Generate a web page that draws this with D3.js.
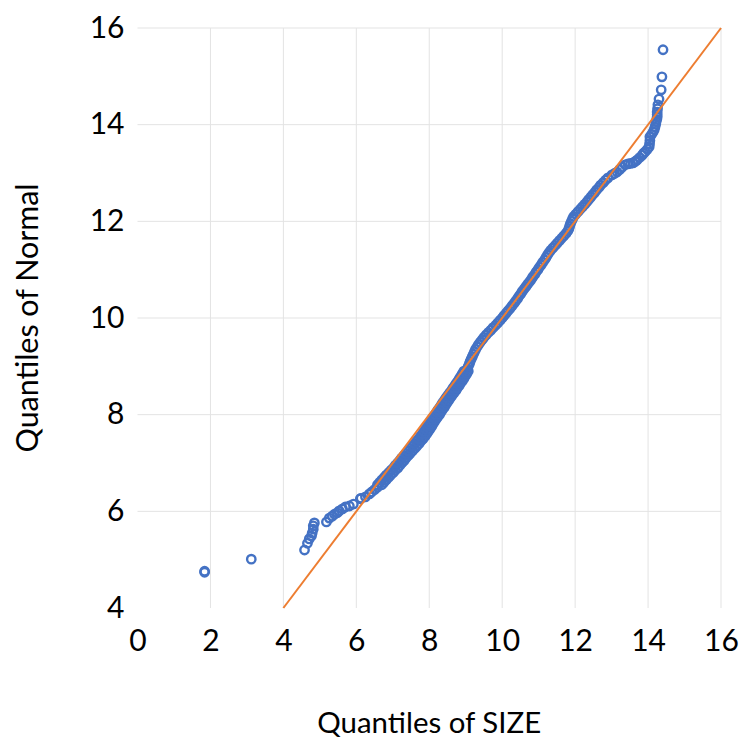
<!DOCTYPE html>
<html><head><meta charset="utf-8">
<script src="https://cdn.jsdelivr.net/npm/d3@7"></script>
<style>body{margin:0;background:#fff}</style>
</head><body>
<svg id="c" width="747" height="744"></svg>
<script>
// Quantiles of SIZE (x) vs Quantiles of Normal (y)
const sizeQ = [
  1.84,1.84,3.12,
  4.58,4.66,4.71,4.77,4.79,4.82,4.82,4.85,
  5.18,5.26,5.34,5.40,5.48,5.53,5.62,5.70,5.81,5.92,6.11,6.13,6.25,6.36,
  6.42,6.50,6.58,
  6.58,6.70, 6.64,6.76, 6.70,6.82, 6.76,6.88, 6.82,6.94, 6.89,7.01, 6.95,7.07, 7.02,7.14, 7.07,7.19, 7.13,7.25,
  7.19,7.31, 7.24,7.36, 7.30,7.42, 7.36,7.48, 7.42,7.54, 7.48,7.60, 7.54,7.66, 7.60,7.72, 7.65,7.77, 7.71,7.83,
  7.76,7.88, 7.81,7.93, 7.85,7.97, 7.90,8.02, 7.94,8.06, 7.98,8.10, 8.02,8.14, 8.06,8.18, 8.11,8.23, 8.16,8.28,
  8.20,8.32, 8.24,8.36, 8.29,8.41, 8.33,8.45, 8.37,8.49, 8.42,8.54, 8.46,8.58, 8.51,8.63, 8.56,8.68, 8.61,8.73,
  8.65,8.77, 8.70,8.82, 8.74,8.86, 8.79,8.91, 8.83,8.95, 8.87,8.99, 8.91,9.03, 8.95,9.07,
  9.04,9.07,9.10,9.12,9.15,9.18,9.21,9.24,9.27,9.31,
  9.35,9.40,9.45,9.50,9.56,9.62,9.69,9.75,9.82,9.88,
  9.94,10.00,10.05,10.11,10.16,10.22,10.27,10.32,10.37,10.42,
  10.46,10.51,10.55,10.60,10.65,10.70,10.75,10.80,10.84,10.89,
  10.93,10.98,11.02,11.07,11.11,11.16,11.20,11.24,11.28,11.33,
  11.39,11.45,11.51,11.57,11.63,11.69,11.75,11.80,11.83,11.85,
  11.87,11.90,11.93,11.96,12.02,12.08,12.14,12.20,12.26,12.32,
  12.37,12.43,12.48,12.54,12.59,12.65,12.70,12.77,12.83,12.90,
  13.01,13.08,13.15,13.22,13.29,13.37,13.45,13.52,13.59,13.65,
  13.70,13.77,13.84,13.88,13.92,13.98,14.03,14.04,14.05,14.05,
  14.10,14.14,14.17,14.19,14.21,14.22,14.24,14.25,14.25,14.25,
  14.26,14.27,14.30,14.36,14.38,14.41
];
const normalQ = [
  4.74,4.76,5.01,
  5.20,5.34,5.43,5.49,5.55,5.63,5.70,5.76,
  5.78,5.86,5.90,5.94,5.97,6.01,6.05,6.09,6.11,6.15,6.26,6.27,6.30,6.36,
  6.40,6.45,6.50,
  6.55,6.55,6.60,6.60,6.65,6.65,6.70,6.70,6.75,6.75,6.80,6.80,6.85,6.85,6.90,6.90,6.95,6.95,7.00,7.00,
  7.05,7.05,7.10,7.10,7.15,7.15,7.20,7.20,7.25,7.25,7.30,7.30,7.35,7.35,7.40,7.40,7.45,7.45,7.50,7.50,
  7.55,7.55,7.60,7.60,7.65,7.65,7.70,7.70,7.75,7.75,7.80,7.80,7.85,7.85,7.90,7.90,7.95,7.95,8.00,8.00,
  8.05,8.05,8.10,8.10,8.15,8.15,8.20,8.20,8.25,8.25,8.30,8.30,8.35,8.35,8.40,8.40,8.45,8.45,8.50,8.50,
  8.55,8.55,8.60,8.60,8.65,8.65,8.70,8.70,8.75,8.75,8.80,8.80,8.85,8.85,8.90,8.90,
  8.95,9.00,9.05,9.10,9.15,9.20,9.25,9.30,9.35,9.40,
  9.45,9.50,9.55,9.60,9.65,9.70,9.75,9.80,9.85,9.90,
  9.95,10.00,10.05,10.10,10.15,10.20,10.25,10.30,10.35,10.40,
  10.45,10.50,10.55,10.60,10.65,10.70,10.75,10.80,10.85,10.90,
  10.95,11.00,11.05,11.10,11.15,11.20,11.25,11.30,11.35,11.40,
  11.45,11.50,11.55,11.60,11.65,11.70,11.75,11.80,11.85,11.90,
  11.95,12.00,12.05,12.10,12.15,12.20,12.25,12.30,12.35,12.40,
  12.45,12.50,12.55,12.60,12.65,12.70,12.75,12.80,12.85,12.90,
  12.96,12.99,13.02,13.07,13.12,13.17,13.19,13.20,13.21,13.24,
  13.27,13.32,13.37,13.41,13.44,13.49,13.54,13.60,13.67,13.75,
  13.80,13.85,13.90,13.95,14.01,14.06,14.11,14.16,14.21,14.26,
  14.33,14.41,14.53,14.72,14.99,15.55
];
const refLine = [4, 16];          // y = x reference line end points
const xTicks = [0,2,4,6,8,10,12,14,16];
const yTicks = [4,6,8,10,12,14,16];
const xTitle = "Quantiles of SIZE";
const yTitle = "Quantiles of Normal";

const FONT = "Lato, 'Open Sans', sans-serif";
const svg = d3.select("#c");
const x = d3.scaleLinear().domain([0,16]).range([137.5,721]);
const y = d3.scaleLinear().domain([4,16]).range([608,28]);

// gridlines
const grid = svg.append("g");
grid.selectAll("line.v").data(xTicks.filter(d => d > 0)).join("line")
  .attr("x1", d => x(d)).attr("x2", d => x(d))
  .attr("y1", y(4)).attr("y2", y(16))
  .attr("stroke", "#e3e3e3").attr("stroke-width", 1);
grid.selectAll("line.h").data(yTicks.filter(d => d > 4)).join("line")
  .attr("x1", x(0)).attr("x2", x(16))
  .attr("y1", d => y(d)).attr("y2", d => y(d))
  .attr("stroke", "#e3e3e3").attr("stroke-width", 1);

// axes (labels only)
const xa = svg.append("g").attr("transform", `translate(0,${y(4)})`)
  .call(d3.axisBottom(x).tickValues(xTicks).tickSize(0).tickFormat(d3.format("d")));
xa.select(".domain").remove();
xa.selectAll("text").attr("y", 43).attr("dy", null)
  .style("font-family", FONT).style("font-size", "30px").attr("fill", "#000");

const ya = svg.append("g").attr("transform", `translate(${x(0)},0)`)
  .call(d3.axisLeft(y).tickValues(yTicks).tickSize(0).tickFormat(d3.format("d")));
ya.select(".domain").remove();
ya.selectAll("text").attr("x", -13).attr("dy", "0.30em")
  .style("font-family", FONT).style("font-size", "30px").attr("fill", "#000");

// points
const pts = d3.range(Math.min(sizeQ.length, normalQ.length)).map(i => [sizeQ[i], normalQ[i]]);
svg.append("g").selectAll("circle").data(pts).join("circle")
  .attr("cx", d => x(d[0])).attr("cy", d => y(d[1])).attr("r", 4.2)
  .attr("fill", "none").attr("stroke", "#4472C4").attr("stroke-width", 2.4);

// reference line
svg.append("line")
  .attr("x1", x(refLine[0])).attr("y1", y(refLine[0]))
  .attr("x2", x(refLine[1])).attr("y2", y(refLine[1]))
  .attr("stroke", "#ED7D31").attr("stroke-width", 2);

// titles
function fit(t, w) {
  const len = t.node().getComputedTextLength();
  const fs = parseFloat(t.style("font-size"));
  t.style("font-size", (fs * w / len).toFixed(2) + "px");
}
const tx = svg.append("text").text(xTitle)
  .attr("x", (x(0) + x(16)) / 2).attr("y", 733).attr("text-anchor", "middle")
  .style("font-family", FONT).style("font-size", "28px").attr("fill", "#000");
fit(tx, 224);
const ty = svg.append("text").text(yTitle)
  .attr("transform", `translate(38,${(y(4) + y(16)) / 2}) rotate(-90)`)
  .attr("text-anchor", "middle")
  .style("font-family", FONT).style("font-size", "28px").attr("fill", "#000");
fit(ty, 269);
</script>
</body></html>
